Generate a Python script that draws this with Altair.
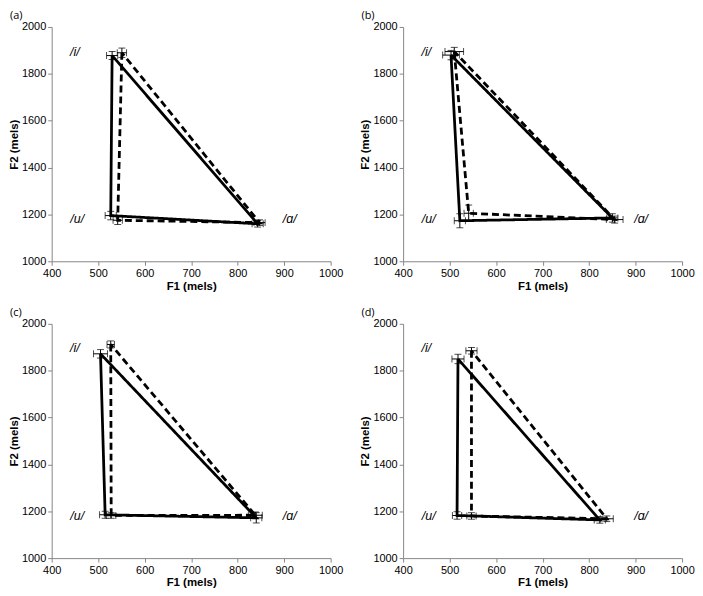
import altair as alt
import pandas as pd

vowels = ["/i/", "/u/", "/ɑ/"]
panels = ["(a)", "(b)", "(c)", "(d)"]

# F1 / F2 (mels) for vowels /i/, /u/, /ɑ/ — solid condition
solid_f1 = {"(a)": [530, 527, 843], "(b)": [503, 522, 850], "(c)": [505, 515, 840], "(d)": [518, 516, 823]}
solid_f2 = {"(a)": [1878, 1195, 1160], "(b)": [1880, 1173, 1185], "(c)": [1872, 1185, 1172], "(d)": [1850, 1182, 1163]}
# dashed condition
dashed_f1 = {"(a)": [551, 542, 847], "(b)": [510, 541, 855], "(c)": [527, 528, 838], "(d)": [547, 547, 838]}
dashed_f2 = {"(a)": [1890, 1175, 1165], "(b)": [1895, 1205, 1178], "(c)": [1912, 1182, 1183], "(d)": [1885, 1180, 1168]}
# error bar half-widths (mels)
solid_f1_err = {"(a)": [12, 12, 12], "(b)": [18, 12, 12], "(c)": [15, 12, 12], "(d)": [13, 10, 12]}
solid_f2_err = {"(a)": [17, 18, 14], "(b)": [20, 30, 18], "(c)": [18, 15, 22], "(d)": [20, 16, 14]}
dashed_f1_err = {"(a)": [10, 10, 12], "(b)": [20, 10, 18], "(c)": [8, 10, 15], "(d)": [12, 10, 14]}
dashed_f2_err = {"(a)": [20, 18, 12], "(b)": [18, 35, 15], "(c)": [15, 12, 14], "(d)": [14, 14, 12]}

# vowel label positions (mels)
label_f1 = [450, 455, 912]
label_f2 = [1895, 1180, 1180]

FONT = "Liberation Sans"
W, H = 281, 236

def panel(p):
    rows = []
    for cond, f1s, f2s, e1s, e2s in [("solid", solid_f1, solid_f2, solid_f1_err, solid_f2_err),
                                     ("dashed", dashed_f1, dashed_f2, dashed_f1_err, dashed_f2_err)]:
        f1, f2, e1, e2 = f1s[p], f2s[p], e1s[p], e2s[p]
        for k in range(4):
            j = k % 3
            rows.append({"cond": cond, "order": k, "vowel": vowels[j], "F1": f1[j], "F2": f2[j],
                         "F1lo": f1[j] - e1[j], "F1hi": f1[j] + e1[j],
                         "F2lo": f2[j] - e2[j], "F2hi": f2[j] + e2[j], "pt": k < 3})
    df = pd.DataFrame(rows)
    pts = df[df["pt"]]

    xs = alt.Scale(domain=[400, 1000], nice=False, zero=False)
    ys = alt.Scale(domain=[1000, 2000], nice=False, zero=False)
    xax = alt.Axis(values=list(range(400, 1001, 100)), title="F1 (mels)", grid=False, format="d", labelFlush=False)
    yax = alt.Axis(values=list(range(1000, 2001, 200)), title="F2 (mels)", grid=False, format="d", labelFlush=False)

    lines = alt.Chart(df).mark_line(color="black", strokeWidth=2.8).encode(
        x=alt.X("F1:Q", scale=xs, axis=xax),
        y=alt.Y("F2:Q", scale=ys, axis=yax),
        detail="cond:N",
        order="order:Q",
        strokeDash=alt.StrokeDash("cond:N", scale=alt.Scale(domain=["solid", "dashed"], range=[[1, 0], [7, 4]]), legend=None),
    )
    base = alt.Chart(pts)
    hbar = base.mark_rule(color="black", strokeWidth=1).encode(x="F1lo:Q", x2="F1hi:Q", y="F2:Q")
    vbar = base.mark_rule(color="black", strokeWidth=1).encode(x="F1:Q", y="F2lo:Q", y2="F2hi:Q")
    caps = []
    for fld in ["F1lo", "F1hi"]:
        caps.append(base.mark_tick(color="black", orient="vertical", size=7, thickness=1).encode(x=f"{fld}:Q", y="F2:Q"))
    for fld in ["F2lo", "F2hi"]:
        caps.append(base.mark_tick(color="black", orient="horizontal", size=7, thickness=1).encode(x="F1:Q", y=f"{fld}:Q"))

    lab = pd.DataFrame({"v": vowels, "F1": label_f1, "F2": label_f2})
    labels = alt.Chart(lab).mark_text(font=FONT, fontStyle="italic", fontSize=12.5, align="center", baseline="middle").encode(
        x="F1:Q", y="F2:Q", text="v:N")
    tag = alt.Chart(pd.DataFrame({"t": [p]})).mark_text(font="Open Sans", fontSize=11, align="left", baseline="middle").encode(
        x=alt.value(-42), y=alt.value(-11), text="t:N")

    return alt.layer(lines, hbar, vbar, *caps, labels, tag).properties(width=W, height=H)

row1 = alt.hconcat(panel("(a)"), panel("(b)"), spacing=16)
row2 = alt.hconcat(panel("(c)"), panel("(d)"), spacing=16)
chart = alt.vconcat(row1, row2, spacing=15).configure_view(stroke=None).configure_axis(
    domainColor="#868686", tickColor="#868686", labelColor="black", titleColor="black",
    labelFont=FONT, titleFont=FONT, labelFontSize=11, titleFontSize=11.5, titleFontWeight="bold",
    tickSize=4, labelPadding=2, titlePadding=2,
).properties(padding=0)

chart.save("out.html", embed_options={"renderer": "svg", "actions": False})
